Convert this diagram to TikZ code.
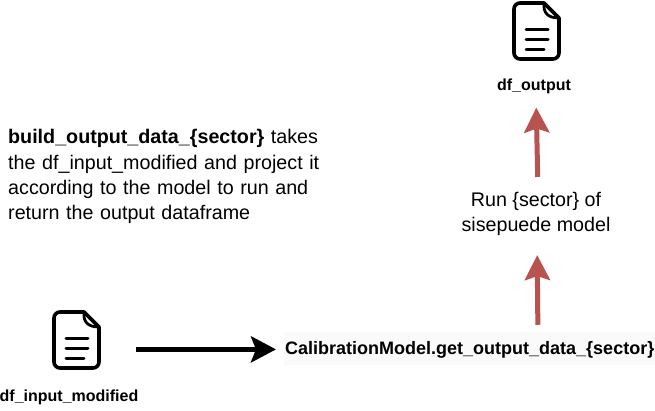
\documentclass[tikz,border=0pt]{standalone}
\usepackage{fontspec}
\setmainfont{Liberation Sans}
\usetikzlibrary{arrows.meta}
\definecolor{redarrow}{HTML}{B85450}
\tikzset{
  x=1pt,y=-1pt,
  filelabel/.style={font=\fontsize{16}{19}\selectfont\bfseries,inner sep=0pt,anchor=base},
  bodytext/.style={font=\fontsize{19.7}{25.3}\selectfont,inner sep=0pt},
  fileicon/.style={inner sep=0pt,minimum width=46pt,minimum height=57pt,draw=none},
  blackflow/.style={draw=black,line width=5pt,-{Stealth[length=25pt,width=26pt,inset=5pt]}},
  redflow/.style={draw=redarrow,line width=5pt,-{Stealth[length=25pt,width=25pt,inset=4pt]}},
  iconline/.style={draw=black,line width=3.6pt,line join=round,line cap=round}
}
\newcommand{\docicon}[2]{%
  \begin{scope}[shift={(#1,#2)}]
    \draw[iconline,rounded corners=6pt] (30,0) -- (0,0) -- (0,56) -- (45,56) -- (45,15);
    \draw[iconline] (30,0) -- (45,15);
    \draw[iconline,line width=2.8pt] (30,0) .. controls (29,10) and (34,15) .. (45,15);
    \draw[iconline,line width=3pt] (12,26.5) -- (34,26.5);
    \draw[iconline,line width=3pt] (12,36.5) -- (34,36.5);
    \draw[iconline,line width=3pt] (12,46.5) -- (30,46.5);
  \end{scope}}
\begin{document}
\begin{tikzpicture}
\useasboundingbox (0,0) rectangle (655,411);
\fill[white] (0,0) rectangle (655,411);
\fill[black!2] (284,332) rectangle (655,365);

\docicon{514}{3}
\docicon{54}{312}
\node[fileicon] (outicon) at (536,31) {};
\node[fileicon] (inicon) at (76,340) {};

\node[filelabel] (outlabel) at (534,91) {df\_output};
\node[filelabel] (inlabel) at (69,401) {df\_input\_modified};

\node[bodytext,anchor=north west,align=left,text width=340pt] (desc) at (8,129.5)
  {\textbf{build\_output\_data\_\{sector\}} takes\\
   the df\_input\_modified and project it\\
   according to the model to run and\\
   return the output dataframe};

\node[bodytext,align=center] (run) at (536,214) {Run \{sector\} of\\sisepuede model};
\node[inner sep=0pt,anchor=base west,font=\fontsize{18}{21}\selectfont\bfseries] (cal) at (285,354) {CalibrationModel.get\_output\_data\_\{sector\}};

\draw[blackflow,shorten <=37pt,shorten >=9pt] (cal.west -| inicon.east) -- (cal.west);
\draw[redflow,shorten <=16pt,shorten >=19pt] ([xshift=2pt]run.south |- cal.north) -- ([xshift=1pt]run.south);
\draw[redflow,shorten <=15pt,shorten >=13pt] ([xshift=2pt]run.north) -- ([xshift=2pt]outlabel.south);
\end{tikzpicture}
\end{document}
